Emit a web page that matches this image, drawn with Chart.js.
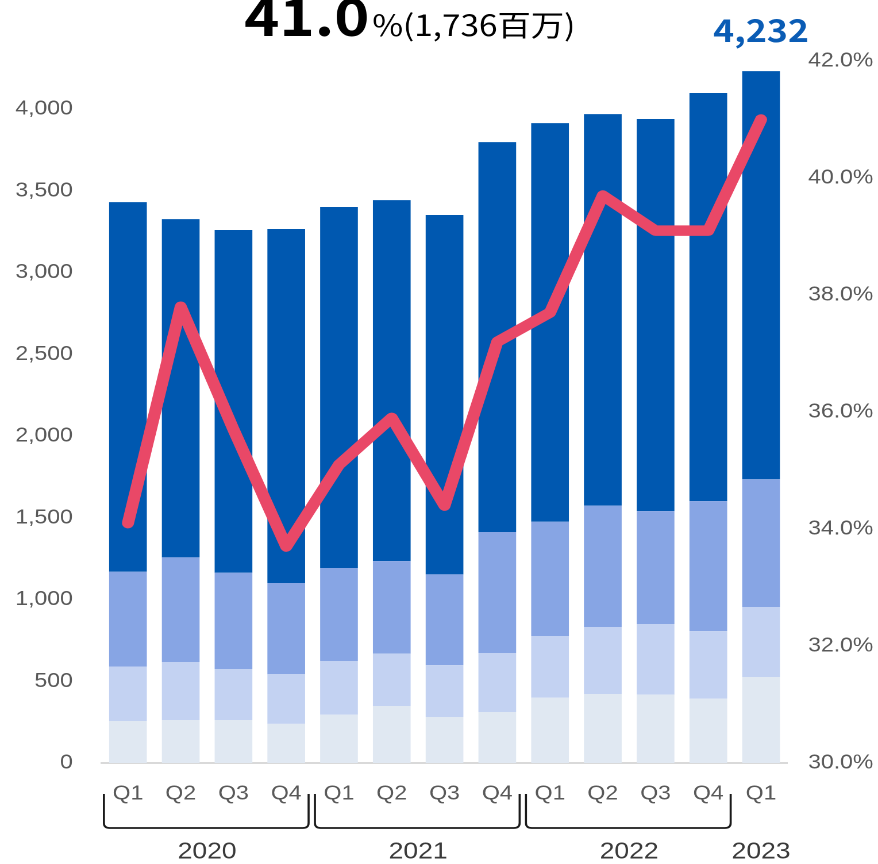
<!DOCTYPE html>
<html>
<head>
<meta charset="utf-8">
<script src="https://cdn.jsdelivr.net/npm/chart.js@4.4.1/dist/chart.umd.min.js"></script>
<style>
  html, body { margin: 0; padding: 0; background: #fff; overflow: hidden; }
  /* the reference is drawn a bit wide, so the whole chart gets stretched sideways */
  #wrap { position: relative; width: 764px; height: 864px; transform: scaleX(1.1492); transform-origin: 0 0; }
</style>
</head>
<body>
<div id="wrap"><canvas id="chart"></canvas></div>
<script>
const quarters = ["Q1", "Q2", "Q3", "Q4", "Q1", "Q2", "Q3", "Q4", "Q1", "Q2", "Q3", "Q4", "Q1"];
const years = ["2020", "2021", "2022", "2023"];
const yearSpans = [4, 4, 4, 1];

// stacked segments, bottom to top
const seg1 = [257, 263, 263, 239, 295, 349, 281, 312, 399, 422, 418, 393, 526];
const seg2 = [332, 355, 312, 304, 329, 320, 318, 361, 378, 410, 432, 414, 428];
const seg3 = [581, 640, 589, 558, 569, 566, 555, 740, 699, 742, 691, 795, 782];
const seg4 = [2261, 2069, 2096, 2165, 2208, 2208, 2198, 2385, 2438, 2395, 2398, 2496, 2496];

// share line (%), right axis
const share = [34.1, 37.8, 35.7, 33.7, 35.1, 35.9, 34.4, 37.2, 37.7, 39.7, 39.1, 39.1, 41.0];

const leftTicks = [0, 500, 1000, 1500, 2000, 2500, 3000, 3500, 4000];
const rightTicks = [30, 32, 34, 36, 38, 40, 42];

const headShare = "41.0";
const headAmount = "%(1,736百万)";

const gray = "#595959";

// brackets under the quarters + year labels
const yearPlugin = {
  id: "years",
  afterDraw(chart) {
    const ctx = chart.ctx;
    const xs = chart.scales.x;
    const step = xs.width / quarters.length;
    ctx.save();
    ctx.strokeStyle = "#1a1a1a";
    ctx.lineWidth = 1.8;
    ctx.fillStyle = "#3a3a3a";
    ctx.font = "23px 'Liberation Sans', Arial, sans-serif";
    ctx.textAlign = "center";
    ctx.textBaseline = "middle";
    let start = 0;
    years.forEach((y, i) => {
      const n = yearSpans[i];
      const first = xs.getPixelForValue(start);
      const last = xs.getPixelForValue(start + n - 1);
      if (n > 1) {
        const l = first - step / 2 + 2;
        const r = last + step / 2 - 3.5;
        const top = 794, bot = 828, rad = 5;
        ctx.beginPath();
        ctx.moveTo(l, top);
        ctx.lineTo(l, bot - rad);
        ctx.quadraticCurveTo(l, bot, l + rad, bot);
        ctx.lineTo(r - rad, bot);
        ctx.quadraticCurveTo(r, bot, r, bot - rad);
        ctx.lineTo(r, top);
        ctx.stroke();
      }
      ctx.fillText(y, (first + last) / 2, 852);
      start += n;
    });
    ctx.restore();
  }
};

// total over the last bar and the headline at the top
const labelPlugin = {
  id: "labels",
  afterDraw(chart) {
    const ctx = chart.ctx;
    const last = quarters.length - 1;
    const total = seg1[last] + seg2[last] + seg3[last] + seg4[last];
    const x = chart.scales.x.getPixelForValue(last);
    ctx.save();
    ctx.fillStyle = "#0A5CB5";
    ctx.font = "bold 31px 'Noto Sans CJK JP', 'Noto Sans', sans-serif";
    ctx.textAlign = "center";
    ctx.textBaseline = "alphabetic";
    ctx.fillText(total.toLocaleString("en-US"), x, 42);

    ctx.fillStyle = "#000";
    ctx.textAlign = "left";
    ctx.font = "bold 52px 'Noto Sans CJK JP', 'Noto Sans', sans-serif";
    const x0 = 212.5;
    ctx.fillText(headShare, x0, 36);
    const w = ctx.measureText(headShare).width;
    ctx.font = "29px 'Noto Sans CJK JP', 'Noto Sans', sans-serif";
    ctx.fillText(headAmount, x0 + w + 2.5, 36);
    ctx.restore();
  }
};

const barSet = (data, color) => ({
  type: "bar",
  data,
  backgroundColor: color,
  borderWidth: 0,
  barPercentage: 0.715,
  categoryPercentage: 1,
  yAxisID: "y",
  order: 1
});

new Chart(document.getElementById("chart"), {
  data: {
    labels: quarters,
    datasets: [
      {
        type: "line",
        data: share,
        yAxisID: "y1",
        borderColor: "#E94867",
        borderWidth: 10.5,
        borderCapStyle: "round",
        borderJoinStyle: "round",
        pointRadius: 0,
        tension: 0,
        order: 0
      },
      barSet(seg1, "#E0E8F2"),
      barSet(seg2, "#C3D2F2"),
      barSet(seg3, "#87A5E4"),
      barSet(seg4, "#0058B0")
    ]
  },
  options: {
    responsive: true,
    maintainAspectRatio: false,
    devicePixelRatio: 2,
    animation: false,
    layout: { padding: { top: 61, left: 0, right: 0, bottom: 0 } },
    plugins: { legend: { display: false }, tooltip: { enabled: false } },
    scales: {
      x: {
        stacked: true,
        grid: { display: false, drawTicks: false },
        border: { display: true, color: "#D9D9D9", width: 2 },
        ticks: { color: gray, font: { family: "'Liberation Sans', Arial", size: 20 }, padding: 19, maxRotation: 0, autoSkip: false },
        afterFit(s) { s.height = 101; }
      },
      y: {
        stacked: true,
        position: "left",
        min: 0,
        max: 4294, // axis runs a bit past 4,000
        grid: { display: false, drawTicks: false },
        border: { display: false },
        ticks: {
          autoSkip: false,
          color: gray,
          padding: 25,
          font: { family: "'Liberation Sans', Arial", size: 20 },
          callback: v => v.toLocaleString("en-US")
        },
        afterBuildTicks(s) { s.ticks = leftTicks.map(v => ({ value: v })); },
        afterFit(s) { s.width = 88.4; }
      },
      y1: {
        position: "right",
        min: 30,
        max: 42,
        grid: { display: false, drawTicks: false },
        border: { display: false },
        ticks: {
          autoSkip: false,
          color: gray,
          padding: 18,
          font: { family: "'Liberation Sans', Arial", size: 20 },
          callback: v => v.toFixed(1) + "%"
        },
        afterBuildTicks(s) { s.ticks = rightTicks.map(v => ({ value: v })); },
        afterFit(s) { s.width = 78.8; }
      }
    }
  },
  plugins: [yearPlugin, labelPlugin]
});
</script>
</body>
</html>
